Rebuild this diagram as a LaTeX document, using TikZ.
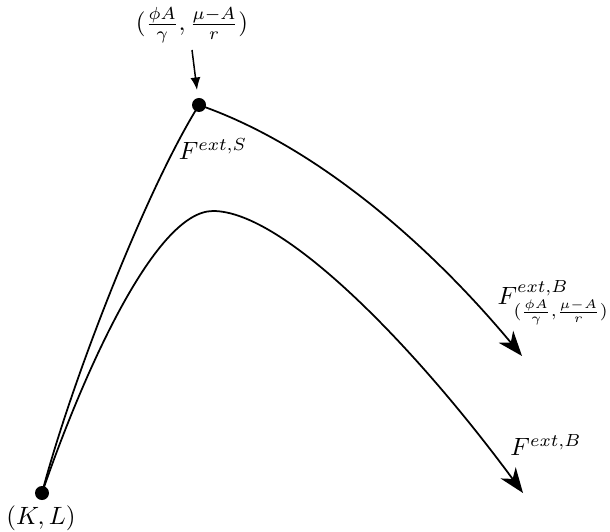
\documentclass[tikz,border=0pt]{standalone}
\usetikzlibrary{arrows.meta}
\begin{document}
\begin{tikzpicture}[x=0.4pt,y=-0.4pt,
  dotnode/.style={circle,fill=black,inner sep=0pt,minimum size=5.6pt},
  curve/.style={line width=0.7pt},
  bigtip/.style={-{Stealth[length=10pt,width=7.5pt,inset=3pt]}},
  lbl/.style={inner sep=0pt}]
\useasboundingbox (0,0) rectangle (610,531);
% points
\node[dotnode] (kl) at (42,493) {};
\node[dotnode] (s) at (199,105) {};
\coordinate (peak) at (213,211);
\coordinate (tipA) at (522,356);
\coordinate (tipB) at (523,493);
% labels
\node[lbl] (kllbl) at (41,518) {$(K,L)$};
\node[lbl] (slbl) at (213,149) {$F^{ext,S}$};
\node[lbl] (toplbl) at (192,25) {$(\frac{\phi A}{\gamma},\frac{\mu-A}{r})$};
\node[lbl,anchor=east] (blblA) at (609.5,303) {$F^{ext,B}_{(\frac{\phi A}{\gamma},\frac{\mu-A}{r})}$};
\node[lbl] (blblB) at (546,445) {$F^{ext,B}$};
\coordinate (arrstart) at (192,50);
\coordinate (arrend) at (197,90);
% curves
\draw[curve] (kl.center) .. controls (72,379) and (147,188) .. (s.center);
\draw[curve,bigtip] (s.center) .. controls (309,143) and (422,236) .. (tipA);
\draw[curve] (kl.center) .. controls (79,385) and (153,211) .. (peak);
\draw[curve,bigtip] (peak) .. controls (283,211) and (413,344) .. (tipB);
\draw[line width=0.6pt,-{Latex[length=5pt,width=4pt]}] (arrstart) -- (arrend);
\end{tikzpicture}
\end{document}
